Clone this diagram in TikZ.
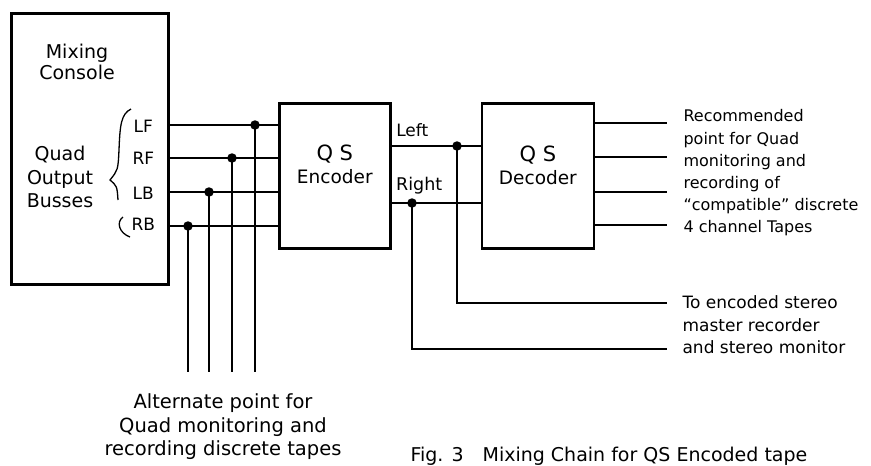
\documentclass[tikz,border=0pt]{standalone}
\usepackage{fontspec}
\setmainfont{DejaVu Sans}
\usetikzlibrary{positioning}

\tikzset{
    block/.style={draw, line width=2.6pt, anchor=north west},
    dot/.style={circle, fill, inner sep=0pt, minimum size=9.5pt},
    txt/.style={inner sep=0pt, align=center},
}

\begin{document}
\begin{tikzpicture}[x=1pt,y=-1pt,line width=1.1pt]

\useasboundingbox (0,0) rectangle (871,466);

\node[block,
    minimum width=157pt,
    minimum height=271pt
] (console) at (10,12) {};

\node[block,
    minimum width=111pt,
    minimum height=145pt
] (encoder) at (278,102) {};

\node[draw,
    line width=2.6pt,
    right=89pt of encoder,
    minimum width=112pt,
    minimum height=145pt
] (decoder) {};

% texts in the blocks
\node[txt, font=\fontsize{19}{21}\selectfont] (consolename) at (77,62) { Mixing\\Console };
\node[txt, font=\fontsize{19}{23.5}\selectfont] (busses) at (60,177) { Quad\\Output\\Busses };
\node[txt, font=\fontsize{18.5}{23}\selectfont] (encodername) at ([yshift=11pt]encoder.center) { {\fontsize{21}{23}\selectfont Q S}\\Encoder };
\node[txt, font=\fontsize{18.5}{23}\selectfont] (decodername) at ([yshift=10pt]decoder.center) { {\fontsize{21}{23}\selectfont Q S}\\Decoder };

% bus taps
\node[dot] (dotLF) at (255,125) {};
\node[dot] (dotRF) at (232,158) {};
\node[dot] (dotLB) at (209,192) {};
\node[dot] (dotRB) at (188,226) {};

\node[txt, font=\fontsize{17}{17}\selectfont] (labelLF) at (146,126) { LF };
\node[txt, font=\fontsize{17}{17}\selectfont] (labelRF) at (146,158) { RF };
\node[txt, font=\fontsize{17}{17}\selectfont] (labelLB) at (146,193) { LB };
\node[txt, font=\fontsize{17}{17}\selectfont] (labelRB) at (146,224) { RB };

% the brace
\draw[line width=1.3pt] (131,109) .. controls (121,114) and (120,125) .. (119,150)
    .. controls (118,170) .. (110,180) .. controls (117,186) .. (118,200);
\draw[line width=1.3pt] (123,217) .. controls (116,222) and (119,233) .. (130,237);

\draw (console.east |- dotLF) -- (encoder.west |- dotLF);
\draw (console.east |- dotRF) -- (encoder.west |- dotRF);
\draw (console.east |- dotLB) -- (encoder.west |- dotLB);
\draw (console.east |- dotRB) -- (encoder.west |- dotRB);

\coordinate (altLF) at (255,372);
\coordinate (altRF) at (232,372);
\coordinate (altLB) at (209,372);
\coordinate (altRB) at (188,372);

\draw (dotLF.center) -- (altLF);
\draw (dotRF.center) -- (altRF);
\draw (dotLB.center) -- (altLB);
\draw (dotRB.center) -- (altRB);

\node[txt, font=\fontsize{19.5}{23.5}\selectfont] (alttext) at (223,427) { Alternate point for\\Quad monitoring and\\recording discrete tapes };

% encoded stereo
\node[dot] (dotLeft) at (457,146) {};
\node[dot] (dotRight) at (412,203) {};

\draw (encoder.east |- dotLeft) -- (decoder.west |- dotLeft);
\draw (encoder.east |- dotRight) -- (decoder.west |- dotRight);

\node[txt, font=\fontsize{17}{17}\selectfont] (labelLeft) at (415,130) { Left };
\node[txt, font=\fontsize{17.5}{17.5}\selectfont] (labelRight) at (422,186) { Right };

\coordinate (stereoL) at (667,303);
\coordinate (stereoR) at (667,349);

\draw (dotLeft.center) |- (stereoL);
\draw (dotRight.center) |- (stereoR);

\node[txt, anchor=west, align=left, font=\fontsize{17}{22.5}\selectfont] (stereotext) at (682,325) { To encoded stereo\\master recorder\\and stereo monitor };

% decoded quad outputs
\coordinate (quad1) at (667,123);
\coordinate (quad2) at (667,157);
\coordinate (quad3) at (667,192);
\coordinate (quad4) at (667,225);

\draw (decoder.east |- quad1) -- (quad1);
\draw (decoder.east |- quad2) -- (quad2);
\draw (decoder.east |- quad3) -- (quad3);
\draw (decoder.east |- quad4) -- (quad4);

\node[txt, anchor=west, align=left, font=\fontsize{16}{22.2}\selectfont] (quadtext) at (683,173) { Recommended\\point for Quad\\monitoring and\\recording of\\``compatible'' discrete\\4 channel Tapes };

\node[txt, anchor=base west, font=\fontsize{19}{19}\selectfont] (caption) at (410,461) { Fig. 3\quad Mixing Chain for QS Encoded tape };

\end{tikzpicture}
\end{document}
